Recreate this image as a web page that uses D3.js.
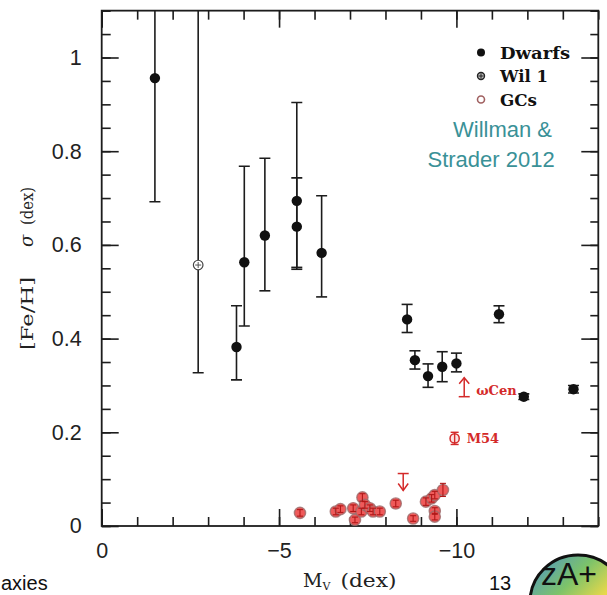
<!DOCTYPE html>
<html><head><meta charset="utf-8">
<script src="https://cdn.jsdelivr.net/npm/d3@7"></script>
<style>
html,body{margin:0;padding:0;background:#fff;}
svg{display:block;}
</style></head>
<body>
<svg id="chart" width="607" height="595"></svg>
<script>
// ---------- data ----------
const dwarfMv    = [-1.50, -3.80, -4.02, -4.60, -5.50, -5.50, -6.20, -8.61, -8.83, -9.20, -9.60, -10.0, -11.2, -11.9, -13.3];
const dwarfSigma = [0.956, 0.382, 0.563, 0.620, 0.694, 0.639, 0.583, 0.441, 0.354, 0.320, 0.340, 0.347, 0.452, 0.276, 0.292];
const dwarfLo    = [0.692, 0.312, 0.427, 0.502, 0.548, 0.552, 0.489, 0.413, 0.335, 0.296, 0.308, 0.329, 0.434, 0.270, 0.284];
const dwarfHi    = [1.250, 0.470, 0.768, 0.785, 0.904, 0.743, 0.705, 0.473, 0.374, 0.346, 0.372, 0.369, 0.470, 0.282, 0.300];

const wil1Mv = [-2.72], wil1Sigma = [0.557], wil1Lo = [0.327], wil1Hi = [1.30];

const gcMv    = [-5.59, -6.60, -6.73, -7.09, -7.14, -7.32, -7.35, -7.42, -7.56, -7.65, -7.84, -8.29, -8.78, -9.14, -9.30, -9.39, -9.39, -9.39, -9.62];
const gcSigma = [0.028, 0.031, 0.036, 0.038, 0.013, 0.031, 0.061, 0.045, 0.038, 0.031, 0.031, 0.048, 0.016, 0.052, 0.059, 0.066, 0.032, 0.020, 0.077];
const gcErr   = [0.007, 0.007, 0.007, 0.007, 0.006, 0.007, 0.008, 0.007, 0.007, 0.007, 0.007, 0.007, 0.006, 0.008, 0.008, 0.008, 0.007, 0.007, 0.014];

const m54Mv = [-9.95], m54Sigma = [0.187], m54Err = [0.013];
const omegaCenMv = [-10.22], omegaCenSigma = [0.276];   // lower limit
const upperLimMv = [-8.50], upperLimSigma = [0.112];    // upper limit

const xMajorTicks = [0, -5, -10];
const xMinorTicks = d3.range(0, -15, -1);
const yMajorTicks = [0, 0.2, 0.4, 0.6, 0.8, 1.0];
const yMinorTicks = d3.range(0, 1.1001, 0.05);
const yTickLabels = ["0", "0.2", "0.4", "0.6", "0.8", "1"];

const legendLabels = ["Dwarfs", "Wil 1", "GCs"];

// ---------- layout ----------
const L = 101.7, R = 598.3, B = 526, yPerUnit = 468.5;
const x = d3.scaleLinear().domain([0, -14]).range([L, R]);
const y = d3.scaleLinear().domain([0, 1.1]).range([B, B - 1.1 * yPerUnit]);
const T = y(1.1);

const svg = d3.select("#chart");
const ink = "#1c1c1c";
const red = "#d42a2a";

svg.append("defs").append("clipPath").attr("id", "plotclip")
  .append("rect").attr("x", L).attr("y", T).attr("width", R - L).attr("height", B - T);

// ---------- axes ----------
function styleAxis(g) {
  g.select(".domain").remove();
  g.selectAll(".tick line").attr("stroke", ink).attr("stroke-width", 1.6);
  g.selectAll("text").attr("fill", "#222").attr("font-family", "Liberation Sans, Arial, sans-serif").attr("font-size", 21.5);
}
// minor ticks
svg.append("g").attr("transform", `translate(0,${B})`)
  .call(d3.axisBottom(x).tickValues(xMinorTicks).tickSize(-9).tickFormat("")).call(styleAxis);
svg.append("g").attr("transform", `translate(0,${T})`)
  .call(d3.axisTop(x).tickValues(xMinorTicks).tickSize(-9).tickFormat("")).call(styleAxis);
svg.append("g").attr("transform", `translate(${L},0)`)
  .call(d3.axisLeft(y).tickValues(yMinorTicks).tickSize(-9).tickFormat("")).call(styleAxis);
svg.append("g").attr("transform", `translate(${R},0)`)
  .call(d3.axisRight(y).tickValues(yMinorTicks).tickSize(-8).tickFormat("")).call(styleAxis);
// major ticks
svg.append("g").attr("transform", `translate(0,${B})`)
  .call(d3.axisBottom(x).tickValues(xMajorTicks).tickSize(-17).tickPadding(17)).call(styleAxis);
svg.append("g").attr("transform", `translate(0,${T})`)
  .call(d3.axisTop(x).tickValues(xMajorTicks).tickSize(-17).tickFormat("")).call(styleAxis);
svg.append("g").attr("transform", `translate(${L},0)`)
  .call(d3.axisLeft(y).tickValues(yMajorTicks).tickSize(-17).tickPadding(20)
    .tickFormat((d, i) => yTickLabels[i])).call(styleAxis);
svg.append("g").attr("transform", `translate(${R},0)`)
  .call(d3.axisRight(y).tickValues(yMajorTicks).tickSize(-17).tickFormat("")).call(styleAxis);

// frame
svg.append("rect").attr("x", L).attr("y", T).attr("width", R - L).attr("height", B - T)
  .attr("fill", "none").attr("stroke", ink).attr("stroke-width", 1.8);

// axis titles
const serif = "DejaVu Serif, Liberation Serif, serif";
const xt = svg.append("text").attr("x", 303).attr("y", 587)
  .attr("font-family", serif).attr("font-size", 19).attr("fill", "#222");
xt.append("tspan").text("M");
xt.append("tspan").attr("font-size", 11).attr("dy", 3).text("V");
xt.append("tspan").attr("dy", -3).attr("dx", 10).attr("textLength", 56)
  .attr("lengthAdjust", "spacingAndGlyphs").text("(dex)");

const yt = svg.append("g").attr("transform", "translate(33,0) rotate(-90)");
yt.append("text").attr("x", -350).attr("y", 0).attr("font-family", serif).attr("font-size", 17)
  .attr("fill", "#222").attr("textLength", 73).attr("lengthAdjust", "spacingAndGlyphs").text("[Fe/H]");
yt.append("text").attr("x", -247).attr("y", 0).attr("font-family", serif).attr("font-size", 18)
  .attr("font-style", "italic").attr("fill", "#222").text("σ");
yt.append("text").attr("x", -225).attr("y", 0).attr("font-family", serif).attr("font-size", 17)
  .attr("fill", "#222").attr("textLength", 38).attr("lengthAdjust", "spacingAndGlyphs").text("(dex)");

// ---------- marks ----------
const plot = svg.append("g").attr("clip-path", "url(#plotclip)");

function errBars(g, mv, lo, hi, color, capW, sw) {
  mv.forEach((m, i) => {
    const cx = x(m);
    g.append("line").attr("x1", cx).attr("x2", cx).attr("y1", y(lo[i])).attr("y2", y(hi[i]))
      .attr("stroke", color).attr("stroke-width", sw);
    [lo[i], hi[i]].forEach(v => {
      g.append("line").attr("x1", cx - capW / 2).attr("x2", cx + capW / 2).attr("y1", y(v)).attr("y2", y(v))
        .attr("stroke", color).attr("stroke-width", sw);
    });
  });
}

// dwarfs
errBars(plot, dwarfMv, dwarfLo, dwarfHi, ink, 11, 1.6);
plot.selectAll("circle.dwarf").data(dwarfMv).join("circle").attr("class", "dwarf")
  .attr("cx", d => x(d)).attr("cy", (d, i) => y(dwarfSigma[i])).attr("r", 5.2).attr("fill", "#111");

// Wil 1
errBars(plot, wil1Mv, wil1Lo, wil1Hi, ink, 11, 1.6);
wil1Mv.forEach((m, i) => {
  const cx = x(m), cy = y(wil1Sigma[i]);
  plot.append("circle").attr("cx", cx).attr("cy", cy).attr("r", 4.8).attr("fill", "#fff")
    .attr("stroke", "#444").attr("stroke-width", 1.2);
  plot.append("path").attr("d", `M${cx-3},${cy}H${cx+3}M${cx},${cy-3}V${cy+3}`)
    .attr("stroke", "#555").attr("stroke-width", 1);
});

// GCs
const gcG = plot.append("g");
gcMv.forEach((m, i) => {
  const cx = x(m), cy = y(gcSigma[i]);
  gcG.append("circle").attr("cx", cx).attr("cy", cy).attr("r", 5.6).attr("fill", "#ef5a5a")
    .attr("stroke", "#9a6a6a").attr("stroke-width", 1.4).attr("stroke-opacity", 0.8);
});
errBars(gcG, gcMv, gcMv.map((d, i) => gcSigma[i] - gcErr[i]), gcMv.map((d, i) => gcSigma[i] + gcErr[i]), "#b01818", 6, 1.1);

// M54
m54Mv.forEach((m, i) => {
  const cx = x(m), cy = y(m54Sigma[i]);
  plot.append("circle").attr("cx", cx).attr("cy", cy).attr("r", 4.6).attr("fill", "#fbe4e4")
    .attr("stroke", red).attr("stroke-width", 1.5);
});
errBars(plot, m54Mv, [m54Sigma[0] - m54Err[0]], [m54Sigma[0] + m54Err[0]], red, 8, 1.4);

// omega Cen lower limit
omegaCenMv.forEach((m, i) => {
  const cx = x(m), cy = y(omegaCenSigma[i]);
  const len = 19;
  plot.append("line").attr("x1", cx - 5.5).attr("x2", cx + 5.5).attr("y1", cy).attr("y2", cy).attr("stroke", red).attr("stroke-width", 1.5);
  plot.append("line").attr("x1", cx).attr("x2", cx).attr("y1", cy).attr("y2", cy - len).attr("stroke", red).attr("stroke-width", 1.5);
  plot.append("path").attr("d", `M${cx-5},${cy-len+6}L${cx},${cy-len}L${cx+5},${cy-len+6}`)
    .attr("fill", "none").attr("stroke", red).attr("stroke-width", 1.5);
  svg.append("text").attr("x", cx + 12).attr("y", cy - 2).attr("font-family", serif).attr("font-weight", "bold")
    .attr("font-size", 13).attr("fill", red).text("ωCen");
});
m54Mv.forEach((m, i) => {
  svg.append("text").attr("x", x(m) + 12).attr("y", y(m54Sigma[i]) + 5).attr("font-family", serif)
    .attr("font-weight", "bold").attr("font-size", 13).attr("fill", red).text("M54");
});

// upper limit
upperLimMv.forEach((m, i) => {
  const cx = x(m), cy = y(upperLimSigma[i]);
  const len = 17;
  plot.append("line").attr("x1", cx - 5.5).attr("x2", cx + 5.5).attr("y1", cy).attr("y2", cy).attr("stroke", red).attr("stroke-width", 1.5);
  plot.append("line").attr("x1", cx).attr("x2", cx).attr("y1", cy).attr("y2", cy + len).attr("stroke", red).attr("stroke-width", 1.5);
  plot.append("path").attr("d", `M${cx-5},${cy+len-7}L${cx},${cy+len}L${cx+5},${cy+len-7}`)
    .attr("fill", "none").attr("stroke", red).attr("stroke-width", 1.5);
});

// ---------- legend ----------
const lg = svg.append("g").attr("font-family", serif).attr("font-weight", "bold").attr("font-size", 17).attr("fill", "#111");
const legY = [52.5, 76, 99.5];
const legLen = [70, 48, 37];
lg.append("circle").attr("cx", 481).attr("cy", legY[0]).attr("r", 4).attr("fill", "#111");
lg.append("circle").attr("cx", 481).attr("cy", legY[1]).attr("r", 3.5).attr("fill", "#bbb").attr("stroke", "#222").attr("stroke-width", 1.4);
lg.append("path").attr("d", `M478.5,${legY[1]}H483.5M481,${legY[1]-2.5}V${legY[1]+2.5}`).attr("stroke", "#222").attr("stroke-width", 1);
lg.append("circle").attr("cx", 481).attr("cy", legY[2]).attr("r", 3.5).attr("fill", "#fff").attr("stroke", "#a06060").attr("stroke-width", 1.6);
legendLabels.forEach((t, i) => {
  lg.append("text").attr("x", 500).attr("y", legY[i] + 6).attr("textLength", legLen[i])
    .attr("lengthAdjust", "spacingAndGlyphs").text(t);
});

// citation
const teal = "#3a9197";
svg.append("text").attr("x", 453).attr("y", 136.5).attr("font-family", "Liberation Sans, Arial, sans-serif")
  .attr("font-size", 22).attr("fill", teal).text("Willman &");
svg.append("text").attr("x", 427.5).attr("y", 166.5).attr("font-family", "Liberation Sans, Arial, sans-serif")
  .attr("font-size", 22).attr("fill", teal).text("Strader 2012");

// ---------- slide decorations ----------
svg.append("text").attr("x", 1).attr("y", 590).attr("font-family", "Liberation Sans, Arial, sans-serif")
  .attr("font-size", 20).attr("fill", "#111").text("axies");
svg.append("text").attr("x", 489).attr("y", 590).attr("font-family", "Liberation Sans, Arial, sans-serif")
  .attr("font-size", 20).attr("fill", "#111").text("13");

const grad = svg.select("defs").append("linearGradient").attr("id", "globe").attr("x1", 0).attr("y1", 0).attr("x2", 1).attr("y2", 1);
[["0", "#4a8fd0"], ["0.35", "#7cc36a"], ["0.6", "#e8d84a"], ["0.85", "#e8803a"], ["1", "#d04030"]].forEach(([o, c]) =>
  grad.append("stop").attr("offset", o).attr("stop-color", c));
svg.append("ellipse").attr("cx", 578).attr("cy", 602).attr("rx", 48).attr("ry", 47)
  .attr("fill", "url(#globe)").attr("stroke", "#111").attr("stroke-width", 3);
svg.append("text").attr("x", 541).attr("y", 585).attr("font-family", "Liberation Sans, Arial, sans-serif")
  .attr("font-size", 32).attr("fill", "#111").text("zA+");
</script>
</body></html>
